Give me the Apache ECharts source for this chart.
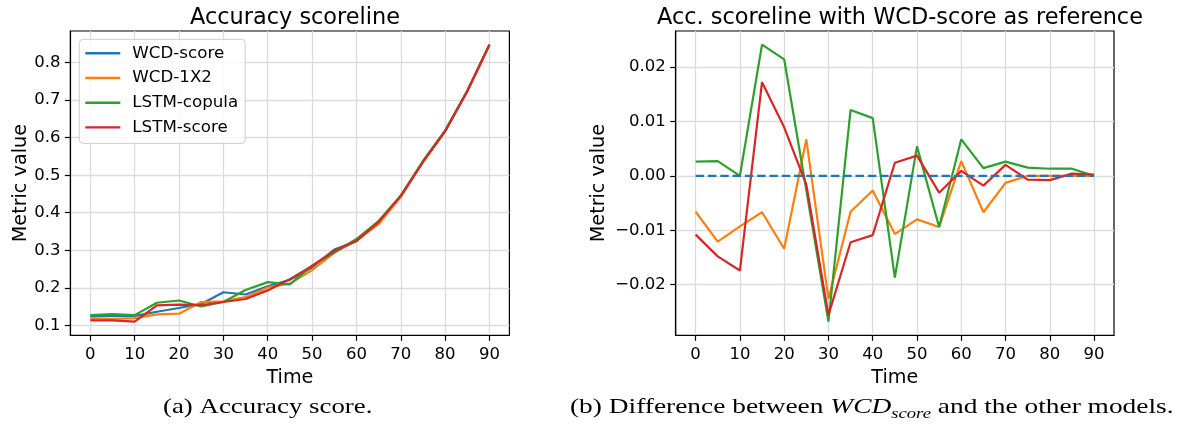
<!DOCTYPE html>
<html>
<head>
<meta charset="utf-8">
<script src="https://cdn.jsdelivr.net/npm/echarts@6/dist/echarts.min.js"></script>
<style>
  html, body { margin: 0; padding: 0; background: #fff; }
  #chart { width: 1186px; height: 425px; }
</style>
</head>
<body>
<div id="chart"></div>
<script>
// time steps shared by both panels
const times = [0, 5, 10, 15, 20, 25, 30, 35, 40, 45, 50, 55, 60, 65, 70, 75, 80, 85, 90]
const xTicks = [0, 10, 20, 30, 40, 50, 60, 70, 80, 90]

// (a) accuracy score per model
const accWcdScore   = [0.124, 0.125, 0.125, 0.136, 0.146, 0.157, 0.188, 0.182, 0.204, 0.221, 0.254, 0.302, 0.324, 0.377, 0.443, 0.536, 0.618, 0.724, 0.848]
const accWcd1x2     = [0.118, 0.117, 0.119, 0.129, 0.131, 0.162, 0.164, 0.175, 0.201, 0.211, 0.247, 0.293, 0.326, 0.370, 0.442, 0.536, 0.618, 0.724, 0.848]
const accLstmCopula = [0.127, 0.130, 0.127, 0.160, 0.166, 0.150, 0.162, 0.194, 0.215, 0.209, 0.259, 0.294, 0.330, 0.378, 0.446, 0.538, 0.619, 0.725, 0.848]
const accLstmScore  = [0.113, 0.113, 0.110, 0.153, 0.155, 0.154, 0.162, 0.170, 0.193, 0.223, 0.258, 0.299, 0.325, 0.375, 0.445, 0.535, 0.617, 0.724, 0.848]
const accTicks = [0.1, 0.2, 0.3, 0.4, 0.5, 0.6, 0.7, 0.8]

// (b) difference to WCD-score
const diffWcdScore   = [0, 0, 0, 0, 0, 0, 0, 0, 0, 0, 0, 0, 0, 0, 0, 0, 0, 0, 0]
const diffWcd1x2     = [-0.0066, -0.0121, -0.0093, -0.0067, -0.0134, 0.0067, -0.0226, -0.0066, -0.0027, -0.0107, -0.0080, -0.0094, 0.0027, -0.0067, -0.0013, 0, 0, 0, 0]
const diffLstmCopula = [0.0026, 0.0027, 0.0000, 0.0241, 0.0214, -0.0026, -0.0268, 0.0121, 0.0106, -0.0187, 0.0054, -0.0094, 0.0067, 0.0014, 0.0026, 0.0015, 0.0013, 0.0013, 0.0000]
const diffLstmScore  = [-0.0108, -0.0148, -0.0174, 0.0172, 0.0089, -0.0016, -0.0256, -0.0122, -0.0109, 0.0024, 0.0037, -0.0031, 0.0009, -0.0018, 0.0020, -0.0007, -0.0008, 0.0004, 0.0002]
const diffTicks = [-0.02, -0.01, 0, 0.01, 0.02]

const modelNames = ['WCD-score', 'WCD-1X2', 'LSTM-copula', 'LSTM-score']
const colors = ['#1f77b4', '#ff7f0e', '#2ca02c', '#d62728']

const FONT = 'DejaVu Sans'
const SERIF = 'Liberation Serif'
const pairs = ys => times.map((t, i) => [t, ys[i]])
const minus = s => String(s).replace('-', '\u2212')

function xAxisFor(gridIndex) {
  return {
    type: 'value', gridIndex, min: -4.5, max: 94.5,
    name: 'Time', nameLocation: 'middle', nameGap: 32,
    nameTextStyle: { fontFamily: FONT, fontSize: 19.2, color: '#000' },
    axisLine: { show: true, onZero: false, lineStyle: { color: '#000', width: 1.2 } },
    axisTick: { show: true, length: 5.5, customValues: xTicks, lineStyle: { color: '#000', width: 1.2 } },
    axisLabel: { customValues: xTicks, margin: 11, fontFamily: FONT, fontSize: 16.5, color: '#000' },
    splitLine: { show: true, lineStyle: { color: '#dcdcdc', width: 1.3 } }
  }
}

function yAxisFor(gridIndex, min, max, ticks, fmt, nameGap) {
  return {
    type: 'value', gridIndex, min, max,
    name: 'Metric value', nameLocation: 'middle', nameGap,
    nameTextStyle: { fontFamily: FONT, fontSize: 19.2, color: '#000' },
    axisLine: { show: true, onZero: false, lineStyle: { color: '#000', width: 1.2 } },
    axisTick: { show: true, length: 5.5, customValues: ticks, lineStyle: { color: '#000', width: 1.2 } },
    axisLabel: { customValues: ticks, margin: 10, fontFamily: FONT, fontSize: 16.5, color: '#000', formatter: fmt },
    splitLine: { show: true, lineStyle: { color: '#dcdcdc', width: 1.3 } }
  }
}

function lineSeries(name, ys, color, axisIndex, dashed) {
  return {
    type: 'line', name, data: pairs(ys),
    xAxisIndex: axisIndex, yAxisIndex: axisIndex,
    showSymbol: false, symbol: 'none', animation: false,
    lineStyle: { color, width: 2.2, type: dashed ? [8.5, 3.8] : 'solid' },
    itemStyle: { color },
    z: dashed ? 4 : 3 // reference line sits on top in panel (b)
  }
}

const chart = echarts.init(document.getElementById('chart'), null, { renderer: 'canvas' })

chart.setOption({
  animation: false,
  textStyle: { fontFamily: FONT },
  title: [
    { text: 'Accuracy scoreline', left: 290, top: 2, textAlign: 'center',
      textStyle: { fontFamily: FONT, fontSize: 22.4, fontWeight: 'normal', color: '#000' } },
    { text: 'Acc. scoreline with WCD-score as reference', left: 895, top: 2, textAlign: 'center',
      textStyle: { fontFamily: FONT, fontSize: 22.4, fontWeight: 'normal', color: '#000' } }
  ],
  grid: [
    { left: 70.4, top: 31, width: 439, height: 304.3, show: true, borderColor: '#000', borderWidth: 1.2, backgroundColor: 'transparent' },
    { left: 675.7, top: 31, width: 438.3, height: 304.3, show: true, borderColor: '#000', borderWidth: 1.2, backgroundColor: 'transparent' }
  ],
  legend: {
    data: modelNames,
    orient: 'vertical', left: 79.3, top: 39.3,
    icon: 'rect', itemWidth: 35, itemHeight: 2.4, itemGap: 4.7,
    padding: [4, 7, 6, 6],
    backgroundColor: 'rgba(255,255,255,0.8)',
    borderColor: '#cccccc', borderWidth: 1, borderRadius: 4,
    textStyle: { fontFamily: FONT, fontSize: 16.7, color: '#000', lineHeight: 20, padding: [0, 0, 0, 7] },
    selectedMode: false
  },
  xAxis: [xAxisFor(0), xAxisFor(1)],
  yAxis: [
    yAxisFor(0, 0.0733, 0.8845, accTicks, v => v.toFixed(1), 40),
    yAxisFor(1, -0.0293, 0.0266, diffTicks, v => minus(v.toFixed(2)), 67)
  ],
  series: [
    lineSeries(modelNames[0], accWcdScore, colors[0], 0),
    lineSeries(modelNames[1], accWcd1x2, colors[1], 0),
    lineSeries(modelNames[2], accLstmCopula, colors[2], 0),
    lineSeries(modelNames[3], accLstmScore, colors[3], 0),
    lineSeries('diff ' + modelNames[0], diffWcdScore, colors[0], 1, true),
    lineSeries('diff ' + modelNames[1], diffWcd1x2, colors[1], 1),
    lineSeries('diff ' + modelNames[2], diffLstmCopula, colors[2], 1),
    lineSeries('diff ' + modelNames[3], diffLstmScore, colors[3], 1)
  ],
  graphic: [
    {
      type: 'text', x: 163, y: 396, scaleX: 1.22,
      style: { text: '(a) Accuracy score.', fontFamily: SERIF, fontSize: 22, fill: '#000' }
    },
    {
      type: 'text', x: 570, y: 392, scaleX: 1.245,
      style: {
        text: '{n|(b) Difference between }{i|WCD}{s|score}{n| and the other models.}',
        fill: '#000',
        rich: {
          n: { fontFamily: SERIF, fontSize: 22, lineHeight: 30 },
          i: { fontFamily: SERIF, fontStyle: 'italic', fontSize: 22, lineHeight: 30 },
          s: { fontFamily: SERIF, fontStyle: 'italic', fontSize: 15, lineHeight: 15, verticalAlign: 'bottom' }
        }
      }
    }
  ]
})
</script>
</body>
</html>
